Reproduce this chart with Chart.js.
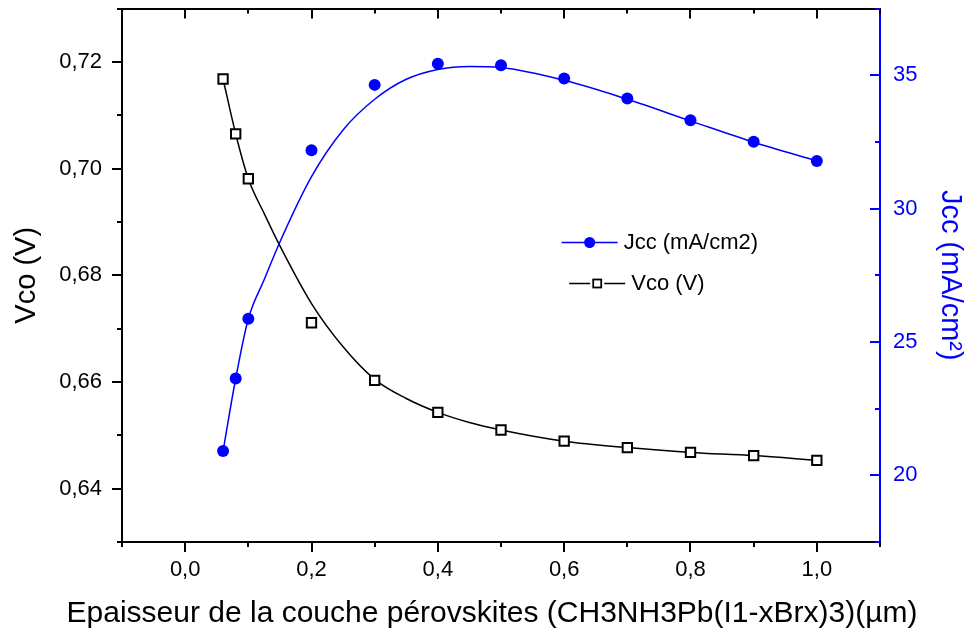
<!DOCTYPE html>
<html>
<head>
<meta charset="utf-8">
<script src="https://cdn.jsdelivr.net/npm/chart.js@4.4.1/dist/chart.umd.min.js"></script>
<style>
  html, body { margin: 0; padding: 0; background: #fff; }
  #wrap { width: 974px; height: 633px; }
</style>
</head>
<body>
<div id="wrap"><canvas id="chart" width="974" height="633"></canvas></div>
<script>
// mesures
const thickness = [0.06, 0.08, 0.1, 0.2, 0.3, 0.4, 0.5, 0.6, 0.7, 0.8, 0.9, 1.0];
const jcc = [20.91, 23.63, 25.87, 32.19, 34.64, 35.43, 35.38, 34.88, 34.13, 33.31, 32.51, 31.79];
const vco = [0.7168, 0.7065, 0.6981, 0.6711, 0.6603, 0.6543, 0.6510, 0.6489, 0.6477, 0.6468, 0.6462, 0.6453];

// courbes lissées
const fitX = [0.06, 0.08, 0.1, 0.125, 0.15, 0.2, 0.25, 0.3, 0.35, 0.4, 0.45, 0.5, 0.6, 0.7, 0.8, 0.9, 1.0];
const jccFit = [20.91, 23.63, 25.87, 27.33, 28.75, 31.2, 32.95, 34.1, 34.85, 35.22, 35.33, 35.29, 34.81, 34.1, 33.29, 32.49, 31.79];
const vcoFit = [0.7168, 0.7065, 0.6981, 0.6916, 0.6855, 0.6747, 0.6666, 0.6605, 0.6569, 0.6543, 0.6524, 0.6510, 0.6489, 0.6477, 0.6468, 0.6462, 0.6453];

// graduations
const xTicks = [-0.1, 0, 0.1, 0.2, 0.3, 0.4, 0.5, 0.6, 0.7, 0.8, 0.9, 1.0, 1.1];
const xTickLabels = ['', '0,0', '', '0,2', '', '0,4', '', '0,6', '', '0,8', '', '1,0', ''];
const vcoTicks = [0.63, 0.64, 0.65, 0.66, 0.67, 0.68, 0.69, 0.70, 0.71, 0.72, 0.73];
const vcoTickLabels = ['', '0,64', '', '0,66', '', '0,68', '', '0,70', '', '0,72', ''];
const jccTicks = [17.5, 20, 22.5, 25, 27.5, 30, 32.5, 35, 37.5];
const jccTickLabels = ['', '20', '', '25', '', '30', '', '35', ''];

const xTitle = 'Epaisseur de la couche pérovskites (CH3NH3Pb(I1-xBrx)3)(µm)';

const BLUE = '#0000ff';
const FONT = 'Liberation Sans, Arial, sans-serif';

function points(xs, ys) {
  return xs.map((x, i) => ({ x: x, y: ys[i] }));
}

// pas de marge automatique autour des axes
function noPad(s) {
  s.paddingTop = 0;
  s.paddingBottom = 0;
  s.paddingLeft = 0;
  s.paddingRight = 0;
}

// petits traits de graduation (majeurs / mineurs)
const tickMarks = {
  id: 'tickMarks',
  afterDraw(chart) {
    const ctx = chart.ctx;
    const list = [
      { id: 'x', labels: xTickLabels, dir: 1, color: '#000' },
      { id: 'xTop', labels: xTickLabels, dir: 1, color: '#000' },
      { id: 'y', labels: vcoTickLabels, dir: -1, color: '#000' },
      { id: 'yR', labels: jccTickLabels, dir: -1, color: BLUE }
    ];
    ctx.save();
    ctx.lineWidth = 2;
    list.forEach(item => {
      const scale = chart.scales[item.id];
      ctx.strokeStyle = item.color;
      scale.ticks.forEach((t, i) => {
        const len = item.labels[i] ? 10 : 5;
        const p = Math.round(scale.getPixelForValue(t.value));
        ctx.beginPath();
        if (scale.isHorizontal()) {
          const y = scale.position === 'bottom' ? scale.top : scale.bottom;
          ctx.moveTo(p, y);
          ctx.lineTo(p, y + item.dir * len);
        } else {
          const x = scale.position === 'left' ? scale.right : scale.left;
          ctx.moveTo(x, p);
          ctx.lineTo(x + item.dir * len, p);
        }
        ctx.stroke();
      });
    });
    ctx.restore();
  }
};

// titre de l'axe x, plus large que le cadre
const bottomTitle = {
  id: 'bottomTitle',
  afterDraw(chart) {
    const ctx = chart.ctx;
    ctx.save();
    ctx.fillStyle = '#000';
    ctx.font = '30px ' + FONT;
    ctx.textAlign = 'center';
    ctx.textBaseline = 'alphabetic';
    ctx.fillText(xTitle, chart.width / 2 + 5, chart.height - 11);
    ctx.restore();
  }
};

// légende dans le cadre, façon Origin
const innerLegend = {
  id: 'innerLegend',
  afterDraw(chart) {
    const ctx = chart.ctx;
    const area = chart.chartArea;
    const w = area.right - area.left;
    const h = area.bottom - area.top;
    const items = [
      { ds: chart.data.datasets[0], x: 0.580, y: 0.437 },
      { ds: chart.data.datasets[1], x: 0.590, y: 0.514 }
    ];
    ctx.save();
    items.forEach(it => {
      const x0 = area.left + it.x * w;
      const y0 = Math.round(area.top + it.y * h) + 0.5;
      const x1 = x0 + 56;
      const xm = (x0 + x1) / 2;
      ctx.strokeStyle = it.ds.borderColor;
      ctx.lineWidth = 1.5;
      ctx.beginPath();
      ctx.moveTo(x0, y0);
      ctx.lineTo(x1, y0);
      ctx.stroke();
      if (it.ds.pointStyle === 'circle') {
        ctx.fillStyle = it.ds.backgroundColor;
        ctx.beginPath();
        ctx.arc(xm, y0, 5.5, 0, Math.PI * 2);
        ctx.fill();
      } else {
        ctx.fillStyle = '#fff';
        ctx.fillRect(xm - 7, y0 - 5, 14, 10);
        ctx.lineWidth = 1.8;
        ctx.strokeRect(xm - 4, y0 - 4, 8, 8);
      }
      ctx.fillStyle = '#000';
      ctx.font = '22px ' + FONT;
      ctx.textBaseline = 'middle';
      ctx.textAlign = 'left';
      ctx.fillText(it.ds.label, x1 + 6, y0);
    });
    ctx.restore();
  }
};

const tickFont = { family: FONT, size: 22 };
const titleFont = { family: FONT, size: 29 };
const noGrid = { display: false, drawTicks: false };

const ctx = document.getElementById('chart').getContext('2d');
const chart = new Chart(ctx, {
  type: 'scatter',
  data: {
    datasets: [
      {
        label: 'Jcc (mA/cm2)',
        data: points(thickness, jcc),
        yAxisID: 'yR',
        showLine: false,
        pointStyle: 'circle',
        pointRadius: 6,
        backgroundColor: BLUE,
        borderColor: BLUE,
        borderWidth: 0
      },
      {
        label: 'Vco (V)',
        data: points(thickness, vco),
        yAxisID: 'y',
        showLine: false,
        pointStyle: 'rect',
        pointRadius: 6.6,
        backgroundColor: '#fff',
        borderColor: '#000',
        borderWidth: 2
      },
      {
        label: 'Jcc fit',
        data: points(fitX, jccFit),
        yAxisID: 'yR',
        showLine: true,
        pointRadius: 0,
        borderColor: BLUE,
        borderWidth: 1.5,
        cubicInterpolationMode: 'monotone'
      },
      {
        label: 'Vco fit',
        data: points(fitX, vcoFit),
        yAxisID: 'y',
        showLine: true,
        pointRadius: 0,
        borderColor: '#000',
        borderWidth: 1.5,
        cubicInterpolationMode: 'monotone'
      }
    ]
  },
  options: {
    responsive: false,
    animation: false,
    layout: { padding: 0 },
    plugins: {
      legend: { display: false },
      tooltip: { enabled: false }
    },
    scales: {
      x: {
        type: 'linear',
        position: 'bottom',
        min: -0.1,
        max: 1.1,
        afterBuildTicks: s => { s.ticks = xTicks.map(v => ({ value: v })); },
        afterFit: s => { s.height = 91; noPad(s); },
        grid: noGrid,
        border: { color: '#000', width: 2 },
        ticks: {
          callback: (v, i) => xTickLabels[i],
          font: tickFont,
          color: '#000',
          padding: 15,
          maxRotation: 0,
          autoSkip: false
        }
      },
      xTop: {
        type: 'linear',
        position: 'top',
        min: -0.1,
        max: 1.1,
        afterBuildTicks: s => { s.ticks = xTicks.map(v => ({ value: v })); },
        afterFit: s => { s.height = 7; noPad(s); },
        grid: noGrid,
        border: { color: '#000', width: 2 },
        ticks: { display: false }
      },
      y: {
        type: 'linear',
        position: 'left',
        min: 0.63,
        max: 0.73,
        afterBuildTicks: s => { s.ticks = vcoTicks.map(v => ({ value: v })); },
        afterFit: s => { s.width = 122; noPad(s); },
        grid: noGrid,
        border: { color: '#000', width: 2 },
        ticks: {
          callback: (v, i) => vcoTickLabels[i],
          font: tickFont,
          color: '#000',
          padding: 20,
          autoSkip: false
        },
        title: {
          display: true,
          text: 'Vco (V)',
          font: titleFont,
          color: '#000',
          padding: { top: 10 }
        }
      },
      yR: {
        type: 'linear',
        position: 'right',
        min: 17.5,
        max: 37.5,
        afterBuildTicks: s => { s.ticks = jccTicks.map(v => ({ value: v })); },
        afterFit: s => { s.width = 94; noPad(s); },
        grid: noGrid,
        border: { color: BLUE, width: 2 },
        ticks: {
          callback: (v, i) => jccTickLabels[i],
          font: tickFont,
          color: BLUE,
          padding: 13,
          autoSkip: false
        },
        title: {
          display: true,
          text: 'Jcc (mA/cm²)',
          font: titleFont,
          color: BLUE,
          padding: { top: 7 }
        }
      }
    }
  },
  plugins: [tickMarks, bottomTitle, innerLegend]
});
</script>
</body>
</html>
